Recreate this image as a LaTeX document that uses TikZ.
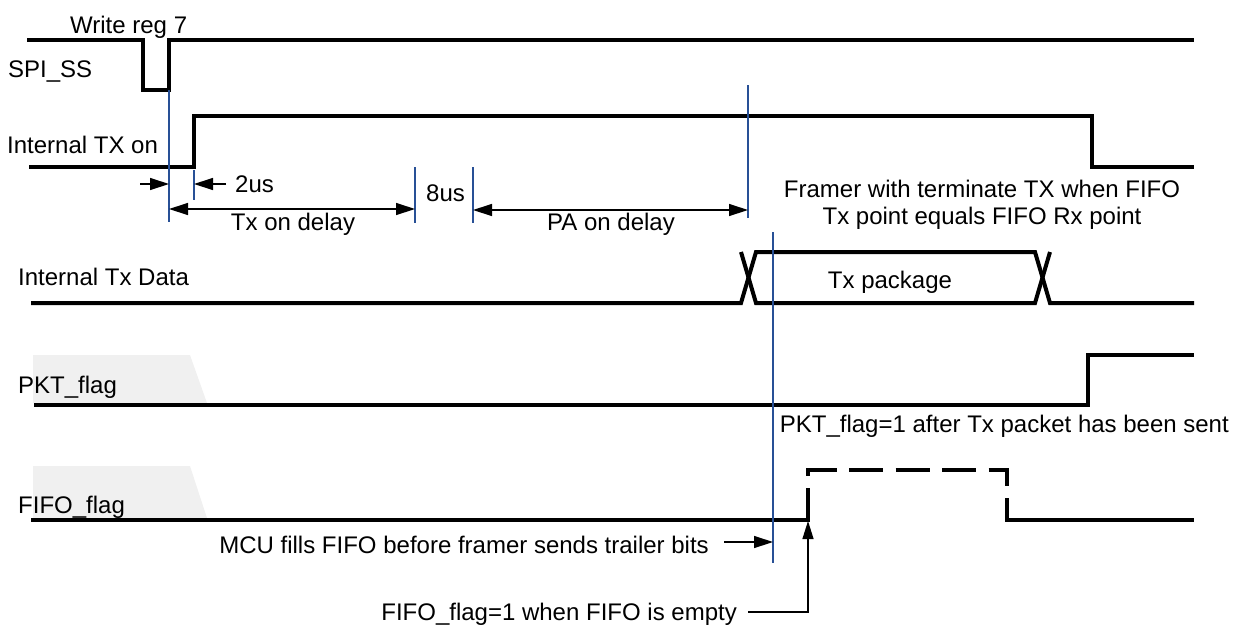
\documentclass[tikz,border=0pt]{standalone}
\usepackage{fontspec}
\setmainfont{Liberation Sans}
\usetikzlibrary{arrows.meta}
\definecolor{mkblue}{RGB}{40,80,150}
\definecolor{lightbg}{RGB}{240,240,240}
\begin{document}
\begin{tikzpicture}[x=1pt,y=-1pt,
  sig/.style={line width=4pt, line join=miter},
  marker/.style={mkblue, line width=1.1pt},
  arr/.style={line width=1.3pt, -{Triangle[length=19pt,width=12pt]}},
  dim/.style={line width=1.3pt, {Triangle[length=19pt,width=12pt]}-{Triangle[length=19pt,width=12pt]}},
  lbl/.style={inner sep=0pt, font=\fontsize{24}{28}\selectfont, anchor=base west}
]
\useasboundingbox (0,0) rectangle (1240,630);

% shaded label backgrounds
\fill[lightbg] (33,355) -- (190,355) -- (207,403) -- (33,403) -- cycle;
\fill[lightbg] (33,466) -- (190,466) -- (207,518) -- (33,518) -- cycle;

% waveforms
\draw[sig] (27,40) -- (143,40) -- (143,90) -- (169,90) -- (169,40) -- (1194,40);
\draw[sig] (29,167) -- (194,167) -- (194,116) -- (1092,116) -- (1092,167) -- (1194,167);
\draw[sig] (31,303) -- (741,303) -- (756,252) -- (1035,252) -- (1050,303) -- (1194,303);
\draw[sig] (741,252) -- (756,303) -- (1035,303) -- (1050,252);
\draw[sig] (34,405) -- (1088,405) -- (1088,355) -- (1194,355);
\draw[sig] (31,520) -- (810,520);
\draw[sig, dash pattern=on 34pt off 12.5pt] (808,522) -- (808,470) -- (1007,470) -- (1007,520);
\draw[sig] (1005,520) -- (1194,520);

% marker lines
\coordinate (m1t) at (169,90);  \coordinate (m1b) at (169,222);
\coordinate (m2t) at (194,170); \coordinate (m2b) at (194,200);
\coordinate (m3t) at (415,167); \coordinate (m3b) at (415,223);
\coordinate (m4t) at (473,167); \coordinate (m4b) at (473,223);
\coordinate (m5t) at (748,85);  \coordinate (m5b) at (748,218);
\coordinate (m6t) at (773,232); \coordinate (m6b) at (773,563);
\foreach \m in {1,...,6} \draw[marker] (m\m t) -- (m\m b);

% labels
\node[lbl] (wr) at (70,33) {Write reg 7};
\node[lbl] (spi) at (8,77) {SPI\_SS};
\node[lbl] (txon) at (7,153) {Internal TX on};
\node[lbl] (us2) at (235,192) {2us};
\node[lbl, anchor=base] (tod) at (293,230) {Tx on delay};
\node[lbl] (us8) at (426,201) {8us};
\node[lbl, anchor=base] (pad) at (611,230) {PA on delay};
\node[lbl, anchor=base] (fr1) at (982,197) {Framer with terminate TX when FIFO};
\node[lbl, anchor=base] (fr2) at (982,224) {Tx point equals FIFO Rx point};
\node[lbl] (txd) at (18,285) {Internal Tx Data};
\node[lbl, anchor=base] (txp) at (890,288) {Tx package};
\node[lbl] (pkt) at (18,393) {PKT\_flag};
\node[lbl, anchor=base east] (pktn) at (1229,432) {PKT\_flag=1 after Tx packet has been sent};
\node[lbl] (fifo) at (18,513) {FIFO\_flag};
\node[lbl, anchor=base east] (mcu) at (709,553) {MCU fills FIFO before framer sends trailer bits};
\node[lbl, anchor=base east] (fifon) at (737,620) {FIFO\_flag=1 when FIFO is empty};

% timing arrows
\coordinate (a1) at (140,184);
\coordinate (a2) at (226,184);
\coordinate (y1) at (0,209);
\coordinate (y2) at (0,210);
\draw[arr] (a1) -- (m1t |- a1);
\draw[arr] (a2) -- (m2t |- a2);
\draw[dim] (m1t |- y1) -- (m3t |- y1);
\draw[dim] (m4t |- y2) -- (m5t |- y2);
\coordinate (a3) at (724,542);
\draw[arr] (a3) -- (m6t |- a3);
\coordinate (fs) at (748,612);
\coordinate (ft) at (808,521);
\draw[line width=1.3pt, -{Triangle[length=18pt,width=11pt]}] (fs) -| (ft);
\end{tikzpicture}
\end{document}
